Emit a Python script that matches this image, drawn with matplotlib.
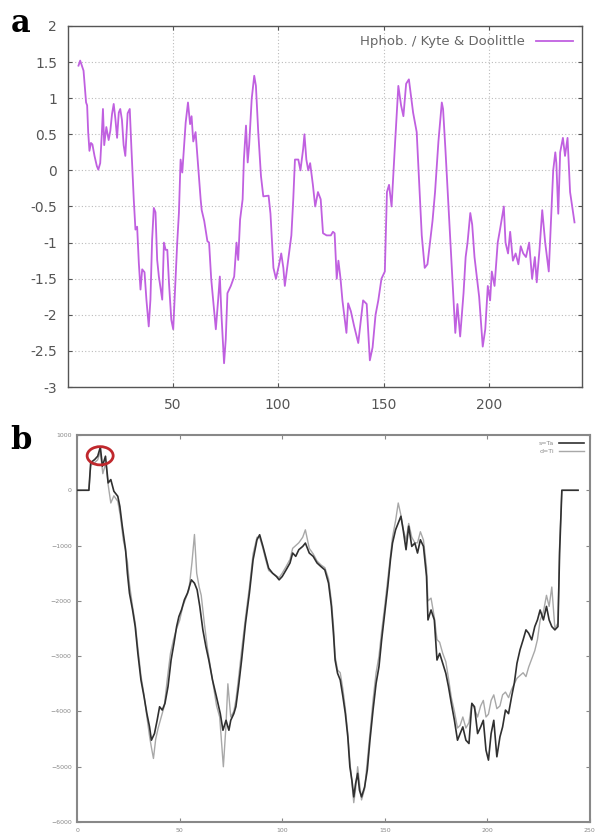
import matplotlib
matplotlib.use('Agg')
import matplotlib.pyplot as plt
from matplotlib.patches import Ellipse

# Panel a: Kyte & Doolittle hydrophobicity profile
hyd_x = [5.4, 6.2, 7.8, 9, 9.5, 10, 10.6, 11.3, 12, 13, 14.1, 14.8, 15.7, 16.5, 17, 17.6,
         18.6, 19.7, 20.5, 21.3, 22.1, 22.9, 23.7, 24.5, 25.2, 26, 26.8, 27.6, 28.7, 29.7,
         30.5, 31.6, 32.4, 33.2, 34, 34.8, 35.6, 36.7, 37.6, 38.7, 39.5, 40.3, 41.1, 41.9,
         42.7, 43.5, 45.1, 45.9, 46.7, 47.5, 48.3, 49.4, 50.3, 51.4, 52.2, 53, 53.8, 54.6,
         56.2, 57.3, 58.3, 59, 59.8, 60.9, 62, 63.3, 63.8, 65, 66.5, 67.3, 68.3, 69.2, 70.5,
         71.6, 72.4, 73.2, 74.4, 75.2, 76, 77.6, 79.2, 80.3, 81.1, 82, 83.2, 83.8, 84.8,
         85.6, 86.3, 87.5, 88.7, 89.5, 90.6, 91.9, 93, 95.5, 96.4, 97.8, 99, 100.5, 101.5,
         102.5, 103.2, 105, 106.3, 107.2, 108, 109.6, 110.6, 111.9, 112.5, 113.4, 114.3,
         115.2, 116.5, 117.6, 118.9, 120.2, 121.3, 123, 125, 126, 126.8, 127.8, 128.6,
         129.6, 130.5, 132.4, 133.2, 134.5, 136, 138, 139.5, 140.3, 142, 143.5, 144.8,
         146.2, 147.5, 149, 150.6, 151.6, 152.6, 153.8, 155.3, 157, 158.3, 159.4, 160.7,
         162, 164, 165.7, 166.6, 168.1, 169.5, 170.8, 173.2, 174.4, 176, 177.6, 178.2,
         179.3, 180.4, 181.7, 183, 184, 185, 186.3, 187.9, 188.9, 189.8, 191.1, 192, 193.1,
         194.3, 195.3, 197, 198.2, 199.4, 200.5, 201.3, 202.6, 204.1, 205.3, 207, 207.8,
         209, 210, 211.3, 212.6, 213.9, 215, 216.2, 217.5, 219, 220.4, 221.7, 222.6, 223.9,
         225.2, 226.6, 228.3, 229.2, 230.4, 231.4, 231.9, 232.8, 233.7, 235, 236, 237.2,
         238.4, 240.5]
hyd_y = [1.45, 1.52, 1.38, 0.94, 0.9, 0.53, 0.27, 0.38, 0.36, 0.2, 0.06, 0.01, 0.1, 0.53,
         0.85, 0.35, 0.6, 0.42, 0.55, 0.78, 0.92, 0.71, 0.45, 0.8, 0.85, 0.7, 0.35, 0.2,
         0.79, 0.85, 0.3, -0.4, -0.82, -0.78, -1.28, -1.65, -1.37, -1.41, -1.79, -2.16,
         -1.79, -0.96, -0.52, -0.58, -1.24, -1.47, -1.79, -1.0, -1.1, -1.1, -1.56, -2.07,
         -2.2, -1.51, -1.0, -0.59, 0.15, -0.03, 0.66, 0.94, 0.64, 0.75, 0.4, 0.53, 0.1,
         -0.4, -0.55, -0.7, -0.98, -1.0, -1.5, -1.79, -2.2, -1.79, -1.47, -2.02, -2.67,
         -2.34, -1.7, -1.6, -1.47, -1.0, -1.24, -0.68, -0.4, 0.15, 0.62, 0.11, 0.35, 0.99,
         1.31, 1.17, 0.53, -0.08, -0.36, -0.35, -0.6, -1.35, -1.5, -1.3, -1.15, -1.35,
         -1.6, -1.2, -0.9, -0.4, 0.15, 0.15, 0.0, 0.3, 0.5, 0.15, 0.0, 0.1, -0.2, -0.5,
         -0.3, -0.4, -0.87, -0.9, -0.9, -0.85, -0.87, -1.5, -1.25, -1.5, -1.8, -2.25,
         -1.84, -1.95, -2.15, -2.39, -2.0, -1.8, -1.85, -2.63, -2.45, -2.0, -1.8, -1.5,
         -1.4, -0.3, -0.2, -0.5, 0.3, 1.17, 0.9, 0.75, 1.2, 1.26, 0.8, 0.53, 0.0, -0.9,
         -1.35, -1.3, -0.7, -0.3, 0.4, 0.94, 0.85, 0.3, -0.3, -1.0, -1.7, -2.25, -1.85,
         -2.3, -1.7, -1.2, -1.0, -0.59, -0.75, -1.2, -1.5, -1.75, -2.44, -2.2, -1.6, -1.8,
         -1.4, -1.6, -1.0, -0.8, -0.5, -1.0, -1.15, -0.85, -1.25, -1.15, -1.3, -1.05,
         -1.15, -1.2, -1.0, -1.5, -1.2, -1.55, -1.1, -0.55, -1.0, -1.4, -0.8, 0.0, 0.25,
         0.1, -0.6, 0.25, 0.45, 0.2, 0.45, -0.3, -0.72]

# Panel b: two profiles
dark_x = [0, 5.7, 6.6, 8.5, 10, 11.3, 12.3, 13.8, 15.1, 16.4, 17.9, 19.8, 20.8, 22, 23.6,
          24.5, 25.5, 27, 28.3, 29.6, 31.1, 32.6, 34, 35.3, 36.2, 37.7, 39, 40.2, 41.5,
          42.8, 44.3, 45.8, 47.2, 48.5, 49.6, 50.9, 52.3, 53.8, 55.7, 57.2, 58.5, 59.8,
          61.3, 62.8, 64.2, 66, 67.9, 69.8, 71.1, 72.6, 74, 74.9, 76.4, 77.4, 78.7, 80.2,
          82.1, 84, 85.8, 87.7, 89, 90.6, 91.9, 93.4, 95.3, 97.2, 98.5, 100, 101.9, 103.8,
          105.1, 106.6, 108.1, 110, 111.3, 113.2, 115.1, 117, 118.9, 120.8, 122.6, 124,
          125.1, 125.8, 127, 128.3, 129.6, 130.8, 132, 133, 134, 134.9, 135.8, 136.8, 137.7,
          138.7, 140.2, 141.5, 142.8, 144.3, 145.8, 147.2, 148.5, 150, 151.5, 152.8, 153.8,
          155.3, 156.6, 157.9, 159, 160.4, 161.7, 163.2, 164.7, 166, 167.4, 168.9, 170.4,
          171.1, 172.6, 174.2, 175.5, 176.8, 178.3, 179.8, 181.1, 182.5, 184, 185.5, 186.8,
          188.1, 189.6, 191.1, 192.5, 193.8, 195.3, 196.8, 198.1, 199.4, 200.6, 201.9,
          203.2, 204.7, 206.2, 207.5, 208.9, 210.4, 211.9, 213.2, 214.5, 216, 217.5, 218.9,
          220.2, 221.7, 223.2, 224.5, 225.8, 227.4, 228.9, 230.2, 231.5, 233, 234.5, 235.3,
          236.4, 244.3]
dark_y = [0, 0, 500, 555, 616, 780, 435, 616, 133, 193, -18, -109, -290, -650, -1075,
          -1500, -1860, -2160, -2465, -2950, -3430, -3730, -4040, -4280, -4520, -4400,
          -4160, -3915, -3975, -3855, -3550, -3070, -2770, -2465, -2285, -2160, -1980,
          -1860, -1620, -1680, -1800, -2100, -2525, -2830, -3070, -3430, -3730, -4040,
          -4340, -4160, -4340, -4160, -4040, -3915, -3550, -3070, -2405, -1860, -1255,
          -895, -805, -1015, -1195, -1410, -1500, -1560, -1620, -1560, -1440, -1315, -1135,
          -1195, -1075, -1015, -955, -1135, -1195, -1315, -1380, -1440, -1680, -2100, -2645,
          -3070, -3310, -3430, -3730, -4040, -4460, -5000, -5245, -5545, -5305, -5120,
          -5425, -5545, -5365, -5060, -4520, -3975, -3490, -3190, -2705, -2225, -1740,
          -1255, -955, -715, -590, -470, -715, -1075, -650, -1015, -955, -1135, -895, -1015,
          -1560, -2345, -2165, -2345, -3070, -2950, -3130, -3310, -3550, -3855, -4160,
          -4520, -4400, -4280, -4520, -4580, -3855, -3915, -4400, -4280, -4160, -4700,
          -4880, -4400, -4160, -4820, -4460, -4280, -3975, -4040, -3730, -3490, -3130,
          -2885, -2705, -2525, -2585, -2705, -2465, -2345, -2165, -2345, -2100, -2345,
          -2465, -2525, -2465, -1135, 0, 0]

light_x = [0, 5.7, 6.6, 8.5, 10, 11.3, 12.5, 14, 15.1, 16.4, 17.9, 19.8, 21, 22.5, 23.6,
           24.5, 25.5, 27, 28.3, 29.6, 31.1, 32.6, 34, 35.3, 36.2, 37.2, 38.3, 39.5, 41,
           42.5, 44, 45.5, 47, 48.5, 50, 51.5, 53, 54.5, 56, 57.2, 58.3, 59.5, 60.5, 62,
           63.5, 65, 66.5, 68, 69.5, 71.3, 72.5, 73.5, 74.9, 76.4, 77.4, 78.7, 80.2, 82.1,
           84, 85.8, 87.7, 89, 90.6, 91.9, 93.4, 95.3, 97.2, 98.5, 100, 101.9, 103.8, 105.1,
           106.6, 108.1, 110, 111.3, 113.2, 115.1, 117, 118.9, 120.8, 122.6, 124, 125.1,
           125.8, 127, 128.3, 129.6, 130.8, 132, 133, 134, 134.9, 135.8, 136.8, 137.7, 138.7,
           140.2, 141.5, 142.8, 144.3, 145.8, 147.2, 148.5, 150, 151.5, 152.8, 153.8, 155.3,
           156.6, 157.9, 159, 160.4, 161.7, 163.2, 164.7, 166, 167.4, 168.9, 170.4, 171.1,
           172.6, 174.2, 175.5, 176.8, 178.3, 179.8, 181.1, 182.5, 184, 185.5, 186.8, 188.1,
           189.6, 191.1, 192.5, 193.8, 195.3, 196.8, 198.1, 199.4, 200.6, 201.9, 203.2,
           204.7, 206.2, 207.5, 208.9, 210.4, 211.9, 213.2, 214.5, 216, 217.5, 218.9, 220.2,
           221.7, 223.2, 224.5, 225.8, 227.4, 228.9, 230.2, 231.5, 233, 234.5, 235.3, 236.4,
           244.3]
light_y = [0, 0, 450, 500, 550, 700, 300, 500, 100, -230, -100, -200, -450, -900, -1100,
           -1300, -1700, -2100, -2400, -2850, -3350, -3700, -4100, -4450, -4650, -4850,
           -4500, -4300, -4100, -3900, -3400, -2950, -2700, -2500, -2350, -2100, -1950,
           -1800, -1300, -800, -1500, -1750, -1900, -2400, -2850, -3200, -3550, -3900,
           -4100, -5000, -4300, -3500, -4100, -4000, -3800, -3400, -2900, -2300, -1750,
           -1150, -850, -850, -1050, -1250, -1450, -1500, -1550, -1580, -1500, -1380, -1250,
           -1050, -1000, -950, -850, -715, -1050, -1150, -1280, -1350, -1400, -1600, -2000,
           -2500, -3000, -3250, -3300, -3600, -3950, -4400, -4900, -5300, -5650, -5400,
           -5000, -5300, -5600, -5400, -4900, -4400, -3800, -3300, -3000, -2550, -2100,
           -1600, -1150, -850, -550, -230, -450, -700, -900, -600, -850, -950, -950, -750,
           -900, -1400, -2000, -1950, -2300, -2700, -2750, -2950, -3100, -3400, -3750, -4000,
           -4300, -4250, -4100, -4300, -4200, -3850, -3950, -4100, -3900, -3800, -4100,
           -4050, -3800, -3700, -3950, -3900, -3700, -3650, -3750, -3600, -3500, -3400,
           -3350, -3300, -3370, -3200, -3050, -2900, -2700, -2350, -2200, -1900, -2100,
           -1750, -2500, -2400, -1000, 0, 0]

a_yticks = [-3, -2.5, -2, -1.5, -1, -0.5, 0, 0.5, 1, 1.5, 2]
a_ylabels = ['-3', '-2.5', '-2', '-1.5', '-1', '-0.5', '0', '0.5', '1', '1.5', '2']
a_xticks = [50, 100, 150, 200]
b_yticks = [-6000, -5000, -4000, -3000, -2000, -1000, 0, 1000]
b_xticks = [0, 50, 100, 150, 200, 250]

fig = plt.figure(figsize=(6.03, 8.36), dpi=100)

# ---- panel a ----
ax1 = fig.add_axes([0.113, 0.537, 0.852, 0.432])
ax1.plot(hyd_x, hyd_y, color='#c060e0', lw=1.3, label='Hphob. / Kyte & Doolittle')
ax1.set_xlim(0.5, 244)
ax1.set_ylim(-3, 2)
ax1.set_yticks(a_yticks)
ax1.set_yticklabels(a_ylabels)
ax1.set_xticks(a_xticks)
ax1.grid(True, color='#bbbbbb', linestyle=(0, (1, 2)), lw=0.8)
ax1.tick_params(direction='in', length=3, colors='#555555', labelsize=10,
                top=True, right=True, pad=8)
for s in ax1.spines.values():
    s.set_color('#555555')
    s.set_linewidth(1.0)
leg = ax1.legend(loc='upper right', frameon=False, fontsize=9.5,
                 handlelength=2.8, markerfirst=False, borderaxespad=0.3)
for t in leg.get_texts():
    t.set_color('#666666')
fig.text(0.035, 0.972, 'a', fontsize=22, fontweight='bold', family='DejaVu Serif',
         ha='center', va='center')

# ---- panel b ----
ax2 = fig.add_axes([0.128, 0.0167, 0.85, 0.463])
ax2.plot(light_x, light_y, color='#a8a8a8', lw=1.0, label='d=Ti', zorder=2)
ax2.plot(dark_x, dark_y, color='#303030', lw=1.2, label='s=Ta', zorder=3)
ax2.set_xlim(0, 250)
ax2.set_ylim(-6000, 1000)
ax2.set_yticks(b_yticks)
ax2.set_xticks(b_xticks)
ax2.tick_params(direction='in', length=3, colors='#888888', labelsize=4.5,
                top=True, right=True, pad=4)
for s in ax2.spines.values():
    s.set_color('#888888')
    s.set_linewidth(1.5)
h, l = ax2.get_legend_handles_labels()
leg2 = ax2.legend(h[::-1], l[::-1], loc='upper right', frameon=False, fontsize=4.5,
                  handlelength=4, markerfirst=False, borderaxespad=0.5)
for t in leg2.get_texts():
    t.set_color('#888888')
ax2.add_patch(Ellipse((11.2, 624), 12.7, 330, fill=False, edgecolor='#c0282d',
                      lw=2, zorder=4))
fig.text(0.035, 0.473, 'b', fontsize=22, fontweight='bold', family='DejaVu Serif',
         ha='center', va='center')

fig.savefig('out.png', dpi=100)
